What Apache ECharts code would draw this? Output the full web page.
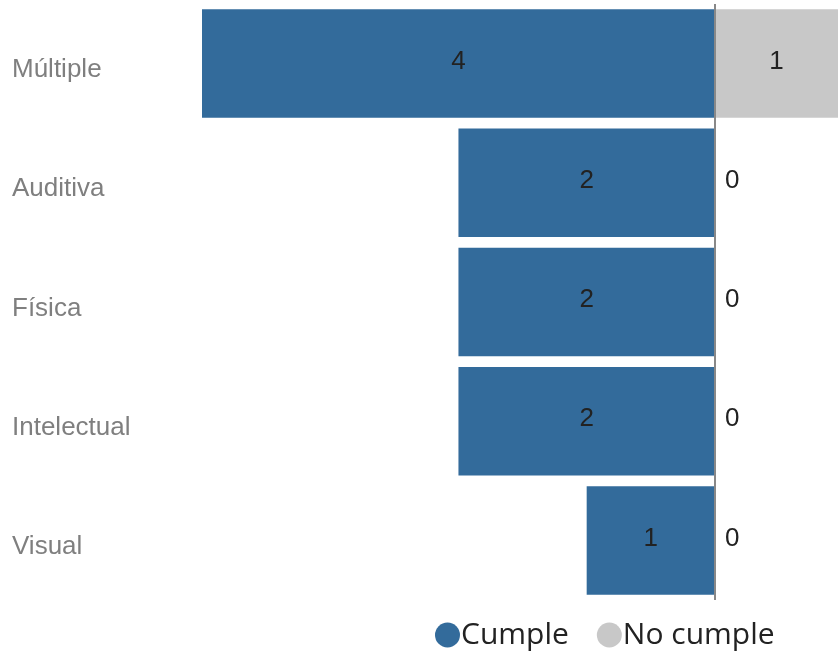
<!DOCTYPE html>
<html>
<head>
<meta charset="utf-8">
<script src="https://cdn.jsdelivr.net/npm/echarts@6/dist/echarts.min.js"></script>
<style>
html,body{margin:0;padding:0;background:#fff;}
#main{width:838px;height:654px;}
</style>
</head>
<body>
<div id="main"></div>
<script>
var categories = ['Múltiple', 'Auditiva', 'Física', 'Intelectual', 'Visual'];
var cumple = [4, 2, 2, 2, 1];
var noCumple = [1, 0, 0, 0, 0];
var seriesNames = ['Cumple', 'No cumple'];

var chart = echarts.init(document.getElementById('main'));
var numFont = 'Liberation Sans, Arial, sans-serif';

chart.setOption({
  animation: false,
  grid: { left: 202, right: 0, top: 4, bottom: 54, containLabel: false },
  legend: {
    data: seriesNames,
    left: 430, top: 615,
    icon: 'circle',
    itemWidth: 25, itemHeight: 25, itemGap: 28,
    textStyle: { fontSize: 30, color: '#222', fontFamily: 'Open Sans, Noto Sans, sans-serif', padding: [0,0,0,-4] }
  },
  xAxis: {
    type: 'value', min: -4, max: 0.96,
    show: false
  },
  yAxis: {
    type: 'category', data: categories, inverse: true,
    axisLine: { show: false, onZero: false },
    axisTick: { show: false },
    axisLabel: { align: 'left', margin: 190,
      formatter: '{c|{value}}',
      rich: { c: { fontSize: 26, color: '#7f7f7f', fontFamily: 'Liberation Sans, Arial, sans-serif',
        padding: [13, 0, 0, 0] } } }
  },
  series: [
    {
      name: seriesNames[0], type: 'bar', barGap: '-100%', barCategoryGap: '9%',
      itemStyle: { color: '#336b9b' },
      data: cumple.map(function (v) { return -v; }),
      label: { show: true, position: 'inside', color: '#222', fontSize: 26, fontFamily: numFont,
        offset: [0, -2],
        formatter: function (p) { return Math.abs(p.value); } },
      markLine: {
        silent: true, symbol: 'none', label: { show: false },
        lineStyle: { color: '#888', width: 2, type: 'solid' },
        data: [{ xAxis: 0 }]
      }
    },
    {
      name: seriesNames[1], type: 'bar', barGap: '-100%', barCategoryGap: '9%',
      itemStyle: { color: '#c8c8c8' },
      data: noCumple.map(function (v) {
        return v === 0 ? { value: 0, label: { position: 'right', distance: 10 } } : v;
      }),
      label: { show: true, position: 'inside', color: '#222', fontSize: 26, fontFamily: numFont,
        offset: [0, -2] }
    }
  ]
});
</script>
</body>
</html>
